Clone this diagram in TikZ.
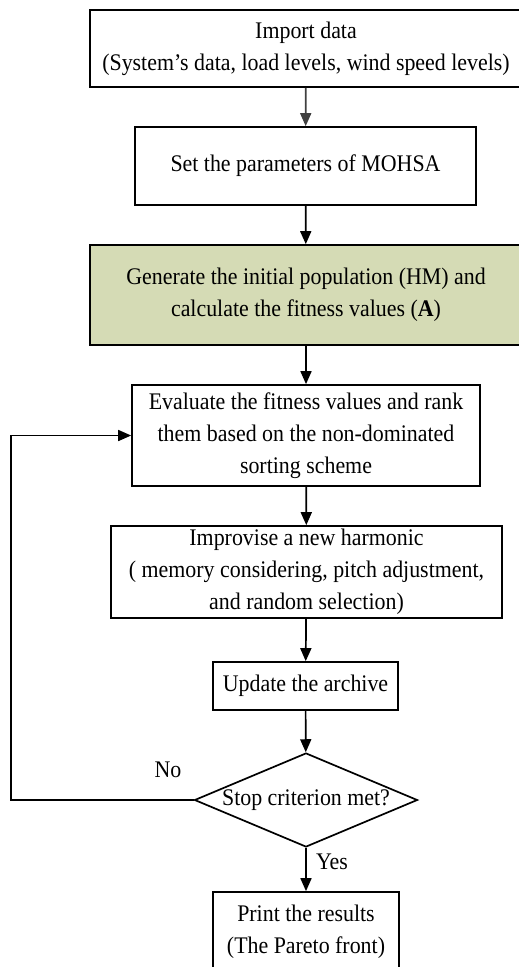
\documentclass[tikz,border=0pt]{standalone}
\usepackage{fontspec}
\setmainfont{Liberation Serif}[FakeStretch=0.92]
\usetikzlibrary{arrows.meta,shapes.geometric}
\definecolor{sage}{RGB}{213,219,181}
\begin{document}
\begin{tikzpicture}[x=1pt,y=-1pt,
  every node/.style={font=\fontsize{23.8}{32}\selectfont, align=center},
  box/.style={draw, line width=1.7pt, rectangle, inner sep=0pt},
  arr/.style={line width=1.7pt, -{Triangle[length=13pt,width=11pt]}},
  lbl/.style={inner sep=0pt}]
\useasboundingbox (0,0) rectangle (519,967);
\node[box, minimum width=432, minimum height=77] (imp) at (306,48.5)
  {Import data\\(System’s data, load levels, wind speed levels)};
\node[box, minimum width=341, minimum height=78] (set) at (305.5,166)
  {Set the parameters of MOHSA};
\node[box, fill=sage, minimum width=432, minimum height=100] (gen) at (306,295)
  {Generate the initial population (HM) and\\calculate the fitness values (\textbf{A})};
\node[box, minimum width=348, minimum height=101] (eval) at (306,435.5)
  {Evaluate the fitness values and rank\\them based on the non-dominated\\sorting scheme};
\node[box, minimum width=391, minimum height=92] (impr) at (306.5,572)
  {Improvise a new harmonic\\( memory considering, pitch adjustment,\\and random selection)};
\node[box, minimum width=185, minimum height=48] (upd) at (305.5,686)
  {Update the archive};
\node[draw, line width=1.7pt, diamond, inner sep=0pt, minimum width=223, minimum height=94] (dec) at (306,800) {};
\node[lbl] (dectxt) at (dec.center) {Stop criterion met?};
\node[box, minimum width=186, minimum height=80] (prt) at (306,932)
  {Print the results\\(The Pareto front)};
\coordinate (lp) at (11,600);
\draw[arr, draw=black!75, fill=black!75] (imp) -- (set);
\draw[arr] (set) -- (gen);
\draw[arr] (gen) -- (eval);
\draw[arr] (eval) -- (impr);
\draw[arr] (impr) -- (upd);
\draw[arr] (upd) -- (dec);
\draw[arr] (dec) -- (prt);
\draw[arr] (dec.west) -| (lp) |- (eval.west);
\node[lbl] (no) at (168,770) {No};
\node[lbl] (yes) at (332,862) {Yes};
\end{tikzpicture}
\end{document}
